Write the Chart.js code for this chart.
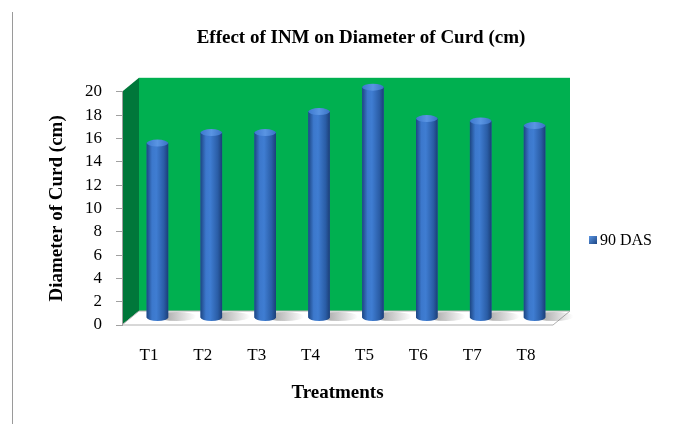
<!DOCTYPE html>
<html>
<head>
<meta charset="utf-8">
<script src="https://cdn.jsdelivr.net/npm/chart.js@4.4.1/dist/chart.umd.min.js"></script>
<style>
    html, body { margin: 0; padding: 0; background: #fff; }
    #wrap { position: relative; width: 698px; height: 424px; }
    #rule { position: absolute; left: 12px; top: 12px; width: 1px; height: 412px; background: #9a9a9a; }
</style>
</head>
<body>
<div id="wrap">
    <div id="rule"></div>
    <canvas id="graph1" width="698" height="424"></canvas>
</div>
<script>
const treatments = ['T1', 'T2', 'T3', 'T4', 'T5', 'T6', 'T7', 'T8'];
const das90 = [15.0, 15.9, 15.9, 17.7, 19.8, 17.1, 16.9, 16.5];
const seriesName = '90 DAS';
const yMax = 20;
const yStep = 2;

const serif = "'Liberation Serif', 'Times New Roman', serif";
const depth = { dx: 17, dy: -14 };

function poly(ctx, pts) {
    ctx.beginPath();
    ctx.moveTo(pts[0][0], pts[0][1]);
    for (let i = 1; i < pts.length; i++) ctx.lineTo(pts[i][0], pts[i][1]);
    ctx.closePath();
}

// walls + floor behind the plot, cylinders over the bars, legend on the right
const box3d = {
    id: 'box3d',
    beforeDraw(chart) {
        const { ctx, chartArea: a } = chart;
        const { dx, dy } = depth;
        ctx.save();
        ctx.fillStyle = '#00B050';
        ctx.fillRect(a.left + dx, a.top + dy, a.width, a.height);

        ctx.fillStyle = '#00773A';
        poly(ctx, [[a.left, a.top], [a.left + dx, a.top + dy], [a.left + dx, a.bottom + dy], [a.left, a.bottom]]);
        ctx.fill();

        ctx.fillStyle = '#ffffff';
        ctx.strokeStyle = '#b0b0b0';
        ctx.lineWidth = 1;
        poly(ctx, [[a.left, a.bottom], [a.left + dx, a.bottom + dy], [a.right + dx, a.bottom + dy], [a.right, a.bottom]]);
        ctx.fill();
        ctx.stroke();
        ctx.restore();
    },
    beforeDatasetsDraw(chart) {
        chart.ctx.save();
        chart.ctx.translate(depth.dx / 2, depth.dy / 2);
    },
    afterDatasetsDraw(chart) {
        const ctx = chart.ctx;
        chart.getDatasetMeta(0).data.forEach(bar => {
            const { x, y, base, width } = bar.getProps(['x', 'y', 'base', 'width'], true);
            const r = width / 2;
            const ry = 3.5;

            // floor shadow, falls to the right
            const sh = ctx.createLinearGradient(x, 0, x + 3.6 * r, 0);
            sh.addColorStop(0, 'rgba(80,80,80,0.6)');
            sh.addColorStop(1, 'rgba(80,80,80,0)');
            ctx.fillStyle = sh;
            ctx.beginPath();
            ctx.ellipse(x + 1.8 * r, base - 1, 1.8 * r, ry + 1, 0, 0, Math.PI * 2);
            ctx.fill();

            const g = ctx.createLinearGradient(x - r, 0, x + r, 0);
            g.addColorStop(0, '#1D4683');
            g.addColorStop(0.25, '#3C78CC');
            g.addColorStop(0.45, '#3F7DD2');
            g.addColorStop(0.8, '#2A5DA6');
            g.addColorStop(1, '#1B3F78');
            ctx.fillStyle = g;
            ctx.beginPath();
            ctx.moveTo(x - r, y);
            ctx.lineTo(x - r, base);
            ctx.ellipse(x, base, r, ry, 0, Math.PI, 0, true);
            ctx.lineTo(x + r, y);
            ctx.closePath();
            ctx.fill();

            const tg = ctx.createLinearGradient(x - r, 0, x + r, 0);
            tg.addColorStop(0, '#3D78CF');
            tg.addColorStop(0.5, '#5A95E3');
            tg.addColorStop(1, '#3A72C4');
            ctx.fillStyle = tg;
            ctx.beginPath();
            ctx.ellipse(x, y, r, ry, 0, 0, Math.PI * 2);
            ctx.fill();
        });
        ctx.restore();
    },
    afterDraw(chart) {
        const { ctx, chartArea: a } = chart;
        const ds = chart.data.datasets[0];
        const cy = 240;
        const bx = a.right + 36;
        ctx.save();
        const lg = ctx.createLinearGradient(bx, cy - 4, bx + 8, cy + 4);
        lg.addColorStop(0, '#5A95E3');
        lg.addColorStop(1, '#1D4683');
        ctx.fillStyle = lg;
        ctx.fillRect(bx, cy - 4, 8, 8);
        ctx.fillStyle = '#000';
        ctx.font = '16px ' + serif;
        ctx.textBaseline = 'middle';
        ctx.fillText(ds.label, bx + 11, cy + 1);
        ctx.restore();
    }
};

new Chart(document.getElementById('graph1'), {
    type: 'bar',
    data: {
        labels: treatments,
        datasets: [{
            label: seriesName,
            data: das90,
            backgroundColor: '#2E67B8',
            borderWidth: 0,
            categoryPercentage: 0.4,
            barPercentage: 1
        }]
    },
    options: {
        responsive: false,
        animation: false,
        events: [],
        layout: { padding: { left: 24, right: 0, top: 0, bottom: 0 } },
        plugins: {
            legend: { display: false },
            tooltip: { enabled: false },
            title: {
                display: true,
                text: 'Effect of INM on Diameter of Curd (cm)',
                color: '#000',
                font: { family: serif, size: 19, weight: 'bold' },
                padding: { top: 27, bottom: 42 }
            }
        },
        scales: {
            x: {
                grid: { display: false, drawTicks: false },
                border: { display: false },
                ticks: { autoSkip: false, maxRotation: 0, color: '#000', font: { family: serif, size: 17 }, padding: 20 },
                title: {
                    display: true,
                    text: 'Treatments',
                    color: '#000',
                    font: { family: serif, size: 19, weight: 'bold' },
                    padding: { top: 18, bottom: 20 }
                },
                afterFit(scale) { scale.height = 99; }
            },
            y: {
                min: 0,
                max: yMax,
                ticks: {
                    stepSize: yStep,
                    autoSkip: false,
                    color: '#000',
                    font: { family: serif, size: 17 },
                    padding: 14
                },
                grid: { drawOnChartArea: false, drawTicks: true, tickLength: 6, color: '#a0a0a0' },
                border: { display: true, color: '#a0a0a0' },
                title: {
                    display: true,
                    text: 'Diameter of Curd (cm)',
                    color: '#000',
                    font: { family: serif, size: 19, weight: 'bold' },
                    padding: { top: 22, bottom: 4 }
                },
                afterFit(scale) { scale.width = 98; }
            },
            // empty room on the right for the legend
            spacer: {
                type: 'linear',
                position: 'right',
                display: true,
                grid: { display: false, drawTicks: false },
                border: { display: false },
                ticks: { display: false },
                afterFit(scale) { scale.width = 145; }
            }
        }
    },
    plugins: [box3d]
});
</script>
</body>
</html>
